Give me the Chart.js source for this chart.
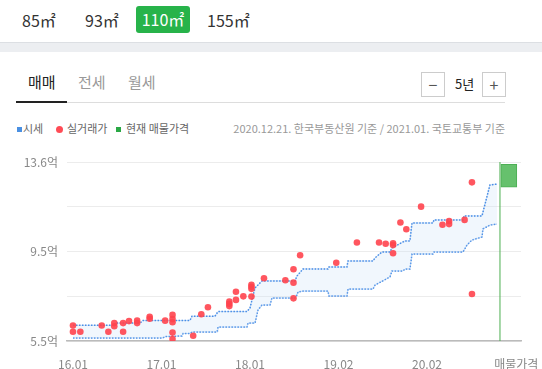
<!DOCTYPE html>
<html>
<head>
<meta charset="utf-8">
<script src="https://cdn.jsdelivr.net/npm/chart.js@4.4.1/dist/chart.umd.min.js"></script>
<style>
  body { margin: 0; width: 542px; height: 369px; overflow: hidden; background: #fff; position: relative;
         font-family: "Noto Sans CJK KR", "Noto Sans", sans-serif; }
  .abs { position: absolute; white-space: nowrap; line-height: 1; }
  .area { font-size: 16px; color: #333; top: 12px; }
  .pill { left: 136px; top: 6px; width: 54px; height: 27px; line-height: 27px; background: #27b34a;
          border-radius: 3px; color: #fff; text-align: center; font-size: 16px; }
  .band { left: 0; top: 42px; width: 542px; height: 9px; background: #eceef1; border-top: 1px solid #dcdfe3; }
  .tab { font-size: 15px; top: 74px; color: #999; }
  .box { top: 72px; width: 22px; height: 23px; border: 1px solid #ccc; text-align: center; line-height: 22px;
         font-size: 16px; color: #555; }
  .leg { font-size: 11px; color: #666; top: 123px; }
  #wrap { position: absolute; left: 0; top: 150px; width: 542px; height: 219px; }
</style>
</head>
<body>
<div class="abs area" style="left:22px">85㎡</div>
<div class="abs area" style="left:85px">93㎡</div>
<div class="abs pill">110㎡</div>
<div class="abs area" style="left:207px">155㎡</div>
<div class="abs band"></div>

<div class="abs tab" style="left:28px;color:#222">매매</div>
<div class="abs tab" style="left:78px">전세</div>
<div class="abs tab" style="left:128px">월세</div>
<div class="abs" style="left:16px;top:101px;width:51px;height:2px;background:#222"></div>
<div class="abs" style="left:67px;top:102px;width:438px;height:1px;background:#ddd"></div>
<div class="abs box" style="left:421px">−</div>
<div class="abs" style="left:455px;top:77px;font-size:13px;color:#222">5년</div>
<div class="abs box" style="left:482px">+</div>

<div class="abs" style="left:17px;top:127px;width:5px;height:5px;background:#4a90e2"></div>
<div class="abs leg" style="left:23px">시세</div>
<div class="abs" style="left:56px;top:126px;width:7px;height:7px;border-radius:50%;background:#ff4b55"></div>
<div class="abs leg" style="left:67px">실거래가</div>
<div class="abs" style="left:116px;top:127px;width:5px;height:5px;background:#2aa845"></div>
<div class="abs leg" style="left:126px">현재 매물가격</div>
<div class="abs leg" style="right:37px;color:#999">2020.12.21. 한국부동산원 기준 / 2021.01. 국토교통부 기준</div>

<div id="wrap"><canvas id="priceChart"></canvas></div>

<script>
// x 값: 2016.01부터의 개월
const xTickVals = [0, 12, 24, 36, 48, 60.1];
const xTickLabels = ["16.01", "17.01", "18.01", "19.02", "20.02", "매물가격"];
const yTickVals = [5.5, 7.525, 9.55, 11.575, 13.6];
const yTickLabels = ["5.5억", "", "9.5억", "", "13.6억"];

// 실거래가
const dealMonth = [0, 0, 1, 3.9, 4.8, 5.6, 5.6, 6.8, 6.8, 7.6, 8.7, 8.7, 10.4, 10.4, 12.5, 13.5, 13.5, 13.5, 13.5, 13.5,
  16.3, 17.4, 18.3, 21.2, 21.2, 21.2, 22.1, 22.1, 23.1, 24.2, 24.2, 24.2, 24.2, 25.9, 28.8, 29.9, 29.9, 29.9, 30.8, 35.7,
  38.5, 41.5, 42.4, 43.4, 43.4, 43.4, 44.4, 45.2, 47.2, 50.1, 51.0, 51.0, 53.1, 54.1, 54.1];
const dealPrice = [6.20, 5.92, 5.92, 6.20, 5.92, 6.31, 6.17, 6.31, 5.92, 6.40, 6.42, 6.31, 6.60, 6.51, 6.42, 6.68, 6.49, 6.35, 5.88, 5.59,
  5.74, 6.71, 7.03, 7.28, 7.18, 7.08, 7.73, 7.36, 7.52, 8.04, 7.95, 7.86, 7.51, 8.34, 8.25, 8.75, 8.14, 7.43, 9.38, 9.04,
  9.96, 9.96, 9.90, 9.92, 9.84, 9.47, 10.86, 10.56, 11.58, 10.76, 10.93, 10.79, 10.98, 12.68, 7.63];

// 시세 상한 / 하한
const upperMonth = [0, 5.69, 5.83, 9.08, 9.49, 15.86, 16.14, 19.25, 19.66, 23.59, 24.0, 24.68, 25.08, 25.63, 30.1, 30.37,
  31.19, 34.58, 34.71, 37.15, 37.29, 40.68, 40.95, 41.9, 42.98, 43.25, 45.02, 45.69, 45.97, 48.81, 48.95, 52.88, 53.02,
  55.46, 56.54, 57.49];
const upperPrice = [6.21, 6.21, 6.31, 6.31, 6.43, 6.43, 6.62, 6.62, 6.83, 6.83, 6.99, 7.90, 8.03, 8.22, 8.22, 8.44,
  8.76, 8.76, 8.85, 8.85, 9.12, 9.12, 9.26, 9.53, 9.53, 9.71, 10.03, 10.03, 10.84, 10.84, 10.98, 10.98, 11.16,
  11.16, 12.56, 12.60];
const lowerMonth = [0, 12.2, 12.47, 14.78, 14.92, 15.86, 16.14, 19.53, 19.66, 23.59, 23.73, 24.68, 25.08, 25.63, 26.71,
  26.98, 30.1, 30.37, 30.51, 31.19, 34.58, 34.71, 37.15, 37.29, 40.68, 40.95, 42.98, 43.25, 44.75, 45.02, 45.69, 45.97,
  48.81, 48.95, 52.88, 53.42, 54.1, 55.46, 55.59, 56.54, 57.49];
const lowerPrice = [5.64, 5.64, 5.70, 5.73, 5.84, 5.84, 5.91, 5.91, 6.13, 6.13, 6.31, 6.31, 6.90, 7.13, 7.13,
  7.45, 7.45, 7.58, 7.72, 7.76, 7.76, 7.54, 7.54, 7.85, 7.85, 8.03, 8.40, 8.67, 8.67, 8.76, 8.76, 9.44,
  9.44, 9.53, 9.53, 9.84, 10.07, 10.21, 10.57, 10.75, 10.79];

// 현재 매물가격
const nowMonth = 57.9;
const listingMonth = [59.1];
const listingLow = [12.46];
const listingHigh = [13.5];

const toPts = (xs, ys) => xs.map((x, i) => ({ x: x, y: ys[i] }));
const blue = "#4a8ee6";

const ctx = document.getElementById("priceChart").getContext("2d");
new Chart(ctx, {
  type: "line",
  data: {
    datasets: [
      {
        type: "scatter",
        data: toPts(dealMonth, dealPrice),
        pointRadius: 3.3,
        pointBackgroundColor: "rgba(255,68,78,0.9)",
        pointBorderWidth: 0,
      },
      {
        type: "bar",
        data: listingMonth.map((m, i) => ({ x: m, y: [listingLow[i], listingHigh[i]] })),
        backgroundColor: "#66c16d",
        borderColor: "#4daf55",
        borderWidth: 1,
        borderSkipped: false,
        barThickness: 16,
      },
      {
        data: [{ x: nowMonth, y: yTickVals[0] }, { x: nowMonth, y: yTickVals[yTickVals.length - 1] }],
        borderColor: "#4caf50",
        borderWidth: 1,
        pointRadius: 0,
      },
      {
        data: toPts(upperMonth, upperPrice),
        borderColor: blue,
        borderWidth: 1.5,
        borderDash: [1.5, 1.5],
        pointRadius: 0,
        fill: "+1",
        backgroundColor: "rgba(200,225,248,0.25)",
      },
      {
        data: toPts(lowerMonth, lowerPrice),
        borderColor: blue,
        borderWidth: 1.5,
        borderDash: [1.5, 1.5],
        pointRadius: 0,
      },
      {
        data: toPts(upperMonth, upperPrice),
        borderColor: "rgba(74,142,230,0.3)",
        borderWidth: 1,
        pointRadius: 0,
      },
      {
        data: toPts(lowerMonth, lowerPrice),
        borderColor: "rgba(74,142,230,0.3)",
        borderWidth: 1,
        pointRadius: 0,
      },
    ],
  },
  options: {
    responsive: true,
    maintainAspectRatio: false,
    animation: false,
    layout: { padding: { top: 12, right: 21, left: 0, bottom: 0 } },
    plugins: { legend: { display: false }, tooltip: { enabled: false } },
    elements: { line: { tension: 0 } },
    scales: {
      x: {
        type: "linear",
        min: -0.81,
        max: 60.75,
        offset: false,
        grid: { display: false },
        border: { color: "#bbb", width: 1.5 },
        afterBuildTicks: (s) => { s.ticks = xTickVals.map((v) => ({ value: v })); },
        afterFit: (s) => { s.height = 28; s.paddingLeft = 0; s.paddingRight = 0; },
        ticks: {
          autoSkip: false,
          maxRotation: 0,
          padding: 8,
          color: "#888",
          font: { family: "'Noto Sans CJK KR', sans-serif", size: 12 },
          callback: (v, i) => xTickLabels[i],
        },
      },
      y: {
        min: yTickVals[0],
        max: yTickVals[yTickVals.length - 1],
        grid: { color: "#ececec", drawTicks: false },
        border: { display: false },
        afterBuildTicks: (s) => { s.ticks = yTickVals.map((v) => ({ value: v })); },
        afterFit: (s) => { s.width = 67; s.paddingTop = 0; s.paddingBottom = 0; },
        ticks: {
          padding: 9,
          color: "#888",
          font: { family: "'Noto Sans CJK KR', sans-serif", size: 12 },
          callback: (v, i) => yTickLabels[i],
        },
      },
    },
  },
});
</script>
</body>
</html>
